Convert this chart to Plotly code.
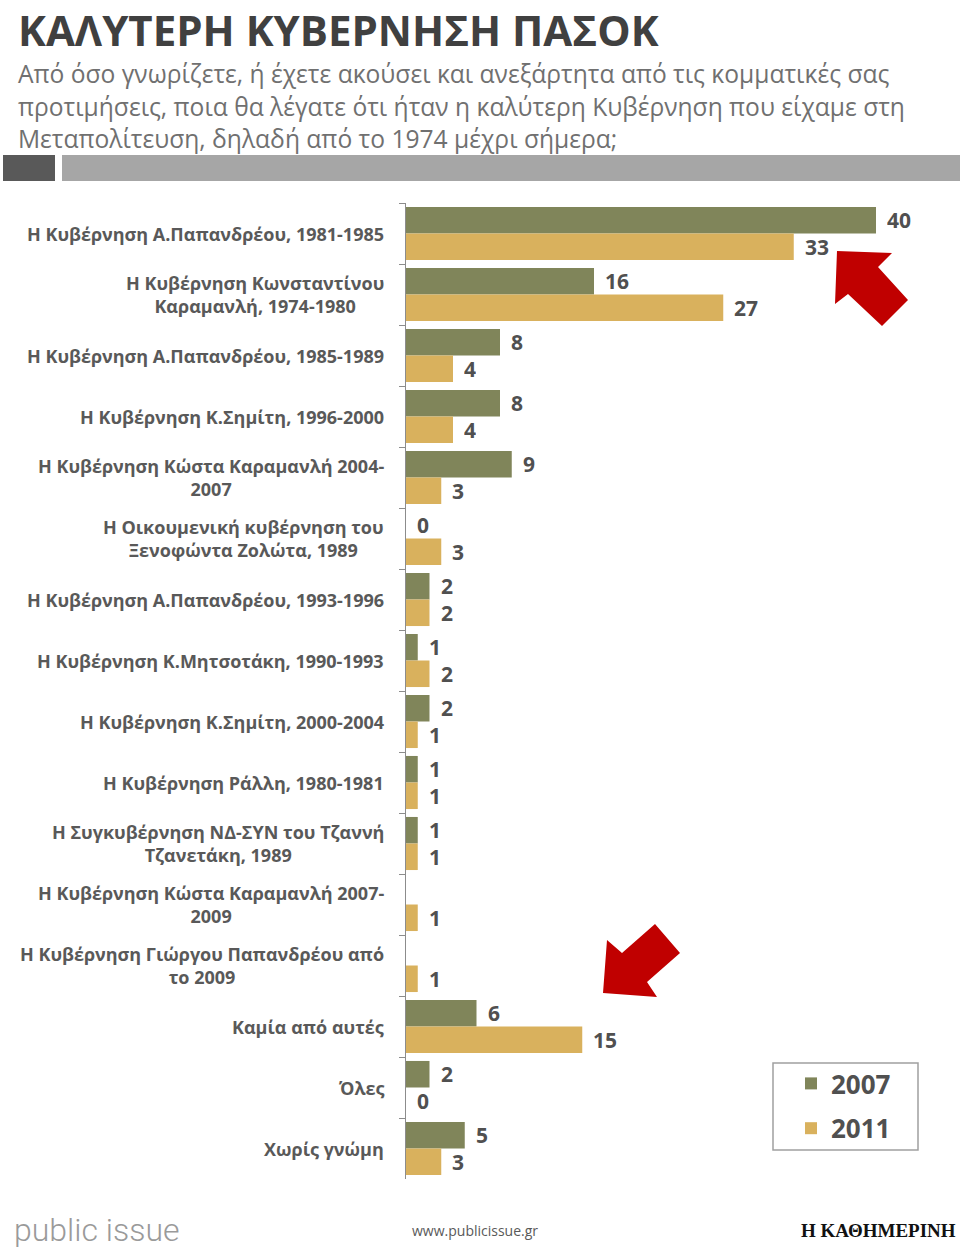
import plotly.graph_objects as go

categories = [
    "Η Κυβέρνηση Α.Παπανδρέου, 1981-1985",
    "Η Κυβέρνηση Κωνσταντίνου<br>Καραμανλή, 1974-1980",
    "Η Κυβέρνηση Α.Παπανδρέου, 1985-1989",
    "Η Κυβέρνηση Κ.Σημίτη, 1996-2000",
    "Η Κυβέρνηση Κώστα Καραμανλή 2004-<br>2007",
    "Η Οικουμενική κυβέρνηση του<br>Ξενοφώντα Ζολώτα, 1989",
    "Η Κυβέρνηση Α.Παπανδρέου, 1993-1996",
    "Η Κυβέρνηση Κ.Μητσοτάκη, 1990-1993",
    "Η Κυβέρνηση Κ.Σημίτη, 2000-2004",
    "Η Κυβέρνηση Ράλλη, 1980-1981",
    "Η Συγκυβέρνηση ΝΔ-ΣΥΝ του Τζαννή<br>Τζανετάκη, 1989",
    "Η Κυβέρνηση Κώστα Καραμανλή 2007-<br>2009",
    "Η Κυβέρνηση Γιώργου Παπανδρέου από<br>το 2009",
    "Καμία από αυτές",
    "Όλες",
    "Χωρίς γνώμη",
]
values_2007 = [40, 16, 8, 8, 9, 0, 2, 1, 2, 1, 1, None, None, 6, 2, 5]
values_2011 = [33, 27, 4, 4, 3, 3, 2, 2, 1, 1, 1, 1, 1, 15, 0, 3]
series_names = ["2007", "2011"]
colors = ["#80855a", "#d9b15d"]

W_FIG, H_FIG = 960, 1256
L, T, R, B = 406, 203, 10, 77
PW, PH = W_FIG - L - R, H_FIG - T - B
PX_PER_UNIT = 11.75
BARGAP = 0.13


def fx(px):
    return (px - L) / PW


def fy(py):
    return 1 - (py - T) / PH


fig = go.Figure()
for name, vals, col in zip(series_names, [values_2007, values_2011], colors):
    fig.add_trace(go.Bar(
        y=list(range(len(categories))), x=vals, name=name, orientation="h",
        legendgroup=name,
        marker=dict(color=col, line=dict(width=0)), hoverinfo="x+name",
    ))

annotations = []
half = (1 - BARGAP) / 4
label_font = dict(family="Open Sans", size=21, color="#505050", weight="bold")
for k, vals in enumerate([values_2007, values_2011]):
    off = -half if k == 0 else half
    for i, v in enumerate(vals):
        if v is None:
            continue
        annotations.append(dict(x=v, y=i + off, xref="x", yref="y", text=str(v),
                                showarrow=False, xanchor="left", yanchor="middle",
                                xshift=9, height=24, font=label_font))

cat_font = dict(family="Open Sans", size=18, color="#595959", weight="bold")
for i, c in enumerate(categories):
    annotations.append(dict(x=0, y=i, xref="paper", yref="y", text=c, showarrow=False,
                            xanchor="right", yanchor="middle", align="center",
                            xshift=-20, font=cat_font))

# title and subtitle
annotations.append(dict(x=fx(16), y=fy(29), xref="paper", yref="paper",
                        text="ΚΑΛΥΤΕΡΗ ΚΥΒΕΡΝΗΣΗ ΠΑΣΟΚ", showarrow=False,
                        xanchor="left", yanchor="middle",
                        font=dict(family="Open Sans", size=42, color="#404040", weight="bold")))
subtitle = [
    "Από όσο γνωρίζετε, ή έχετε ακούσει και ανεξάρτητα από τις κομματικές σας",
    "προτιμήσεις, ποια θα λέγατε ότι ήταν η καλύτερη Κυβέρνηση που είχαμε στη",
    "Μεταπολίτευση, δηλαδή από το 1974 μέχρι σήμερα;",
]
for j, line in enumerate(subtitle):
    annotations.append(dict(x=fx(16), y=fy(74 + 32.5 * j), xref="paper", yref="paper",
                            text=line, showarrow=False, xanchor="left", yanchor="middle",
                            font=dict(family="Open Sans", size=24.6, color="#707070")))

# footer
annotations.append(dict(x=fx(12), y=fy(1230), xref="paper", yref="paper",
                        text="public issue", showarrow=False, xanchor="left", yanchor="middle",
                        font=dict(family="Roboto", size=32, color="#9a9a9a", weight=300)))
annotations.append(dict(x=fx(475), y=fy(1230), xref="paper", yref="paper",
                        text="www.publicissue.gr", showarrow=False, xanchor="center", yanchor="middle",
                        font=dict(family="Open Sans", size=14, color="#595959")))
annotations.append(dict(x=fx(958), y=fy(1230), xref="paper", yref="paper",
                        text="Η ΚΑΘΗΜΕΡΙΝΗ", showarrow=False, xanchor="right", yanchor="middle",
                        font=dict(family="Liberation Serif", size=19, color="#111111", weight="bold")))

shapes = [
    dict(type="rect", xref="paper", yref="paper", x0=fx(3), x1=fx(55), y0=fy(155), y1=fy(181),
         fillcolor="#595959", line=dict(width=0), layer="above"),
    dict(type="rect", xref="paper", yref="paper", x0=fx(62), x1=fx(960), y0=fy(155), y1=fy(181),
         fillcolor="#a6a6a6", line=dict(width=0), layer="above"),
    # legend frame
    dict(type="rect", xref="paper", yref="paper", x0=fx(773), x1=fx(918), y0=fy(1063), y1=fy(1150),
         fillcolor="rgba(0,0,0,0)", line=dict(width=1.5, color="#a0a0a0"), layer="above"),
]


def arrow_path(pts):
    return "M " + " L ".join(f"{fx(px)},{fy(py)}" for px, py in pts) + " Z"


arrow1 = [(837, 251), (892, 253), (878, 267), (908, 300), (882, 326), (848, 294), (835, 304)]
arrow2 = [(603, 993), (607, 940), (622, 953), (655, 924), (680, 953), (647, 982), (657, 997)]
for pts in (arrow1, arrow2):
    shapes.append(dict(type="path", xref="paper", yref="paper", path=arrow_path(pts),
                       fillcolor="#c00000", line=dict(width=0), layer="above"))

fig.update_layout(
    width=W_FIG, height=H_FIG,
    margin=dict(l=L, r=R, t=T, b=B, pad=0),
    paper_bgcolor="white", plot_bgcolor="white",
    barmode="group", bargap=BARGAP, bargroupgap=0,
    xaxis=dict(visible=False, range=[0, PW / PX_PER_UNIT], fixedrange=True),
    yaxis=dict(type="category", autorange="reversed", showticklabels=False,
               ticks="outside", tickson="boundaries", ticklen=6, tickcolor="#8c8c8c",
               showline=True, linecolor="#8c8c8c", linewidth=1, showgrid=False,
               zeroline=False, fixedrange=True),
    showlegend=True,
    legend=dict(x=fx(791), y=fy(1060), xanchor="left", yanchor="top",
                borderwidth=0, bgcolor="rgba(0,0,0,0)",
                font=dict(family="Open Sans", size=26, color="#505050", weight="bold"),
                traceorder="grouped", tracegroupgap=8, itemclick=False),
    annotations=annotations,
    shapes=shapes,
    font=dict(family="Open Sans"),
)
fig.update_traces(cliponaxis=False)

fig.write_html("out.html")
